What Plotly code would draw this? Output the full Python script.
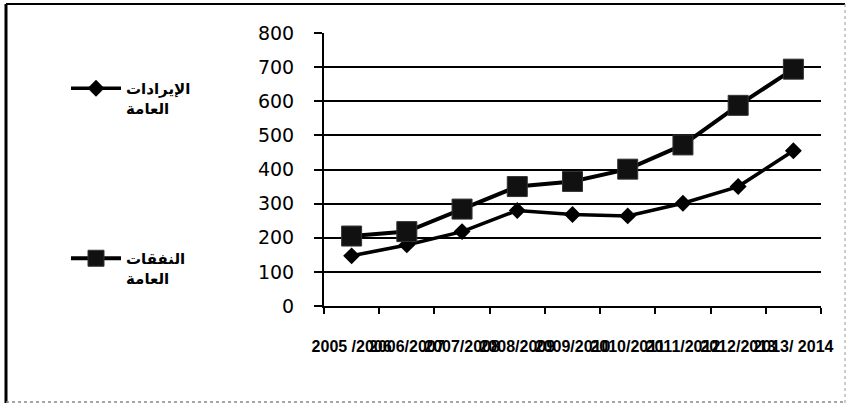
import plotly.graph_objects as go

periods = ["2005 /2006", "2006/2007", "2007/2008", "2008/2009", "2009/2010",
           "2010/2011", "2011/2012", "2012/2013", "2013/ 2014"]
revenue = [147, 179, 218, 280, 268, 264, 301, 350, 455]
expenditure = [205, 218, 284, 350, 365, 401, 472, 588, 694]
revenue_name = "الإيرادات<br>العامة"
expenditure_name = "النفقات<br>العامة"
y_ticks = [0, 100, 200, 300, 400, 500, 600, 700, 800]

W, H = 847, 405
L, R, T, B = 324, 26, 33, 99
PW, PH = W - L - R, H - T - B


def px(x):
    return (x - L) / PW


def py(y):
    return (H - B - y) / PH


fig = go.Figure()
fig.add_trace(go.Scatter(
    x=periods, y=revenue, name=revenue_name, mode="lines+markers",
    legendgroup="a",
    line=dict(color="black", width=3.5),
    marker=dict(symbol="diamond", size=13, color="black"),
))
fig.add_trace(go.Scatter(
    x=periods, y=expenditure, name=expenditure_name, mode="lines+markers",
    legendgroup="b",
    line=dict(color="black", width=4),
    marker=dict(symbol="square", size=20, color="#111111",
                line=dict(color="#333333", width=1)),
))

shapes = [
    dict(type="line", xref="paper", yref="paper", x0=px(6), x1=px(6), y0=py(4), y1=py(403),
         line=dict(color="black", width=3)),
    dict(type="line", xref="paper", yref="paper", x0=px(6), x1=px(845), y0=py(4), y1=py(4),
         line=dict(color="black", width=2)),
    dict(type="line", xref="paper", yref="paper", x0=px(845), x1=px(845), y0=py(4), y1=py(403),
         line=dict(color="#999999", width=1, dash="dot")),
    dict(type="line", xref="paper", yref="paper", x0=px(6), x1=px(845), y0=py(402), y1=py(402),
         line=dict(color="#888888", width=1.5, dash="dot")),
]

fig.update_layout(
    width=W, height=H,
    margin=dict(l=L, r=R, t=T, b=B, pad=0),
    paper_bgcolor="white", plot_bgcolor="white",
    font=dict(family="DejaVu Sans", color="black"),
    showlegend=True,
    legend=dict(
        x=px(66), y=py(72), xanchor="left", yanchor="top",
        traceorder="grouped", tracegroupgap=128, valign="top",
        font=dict(family="DejaVu Sans", size=15, color="black", weight="bold"),
        itemwidth=50, bgcolor="rgba(0,0,0,0)",
    ),
    shapes=shapes,
    xaxis=dict(
        type="category", range=[-0.5, 8.5],
        showline=True, linecolor="black", linewidth=2,
        ticks="outside", tickson="boundaries", ticklen=6, tickcolor="black", tickwidth=1.5,
        showgrid=False, tickangle=0, ticklabelstandoff=25,
        tickfont=dict(family="Liberation Sans", size=16, color="black", weight="bold"),
    ),
    yaxis=dict(
        range=[0, 800], tickvals=y_ticks,
        showline=True, linecolor="black", linewidth=2,
        ticks="outside", ticklen=8, tickcolor="black", tickwidth=1.5,
        showgrid=True, gridcolor="black", gridwidth=1.5,
        zeroline=False, ticklabelstandoff=16,
        tickfont=dict(family="DejaVu Sans", size=19, color="black"),
    ),
)

fig.write_html("out.html", config={"displayModeBar": False},
               post_script="document.body.style.margin='0';")
